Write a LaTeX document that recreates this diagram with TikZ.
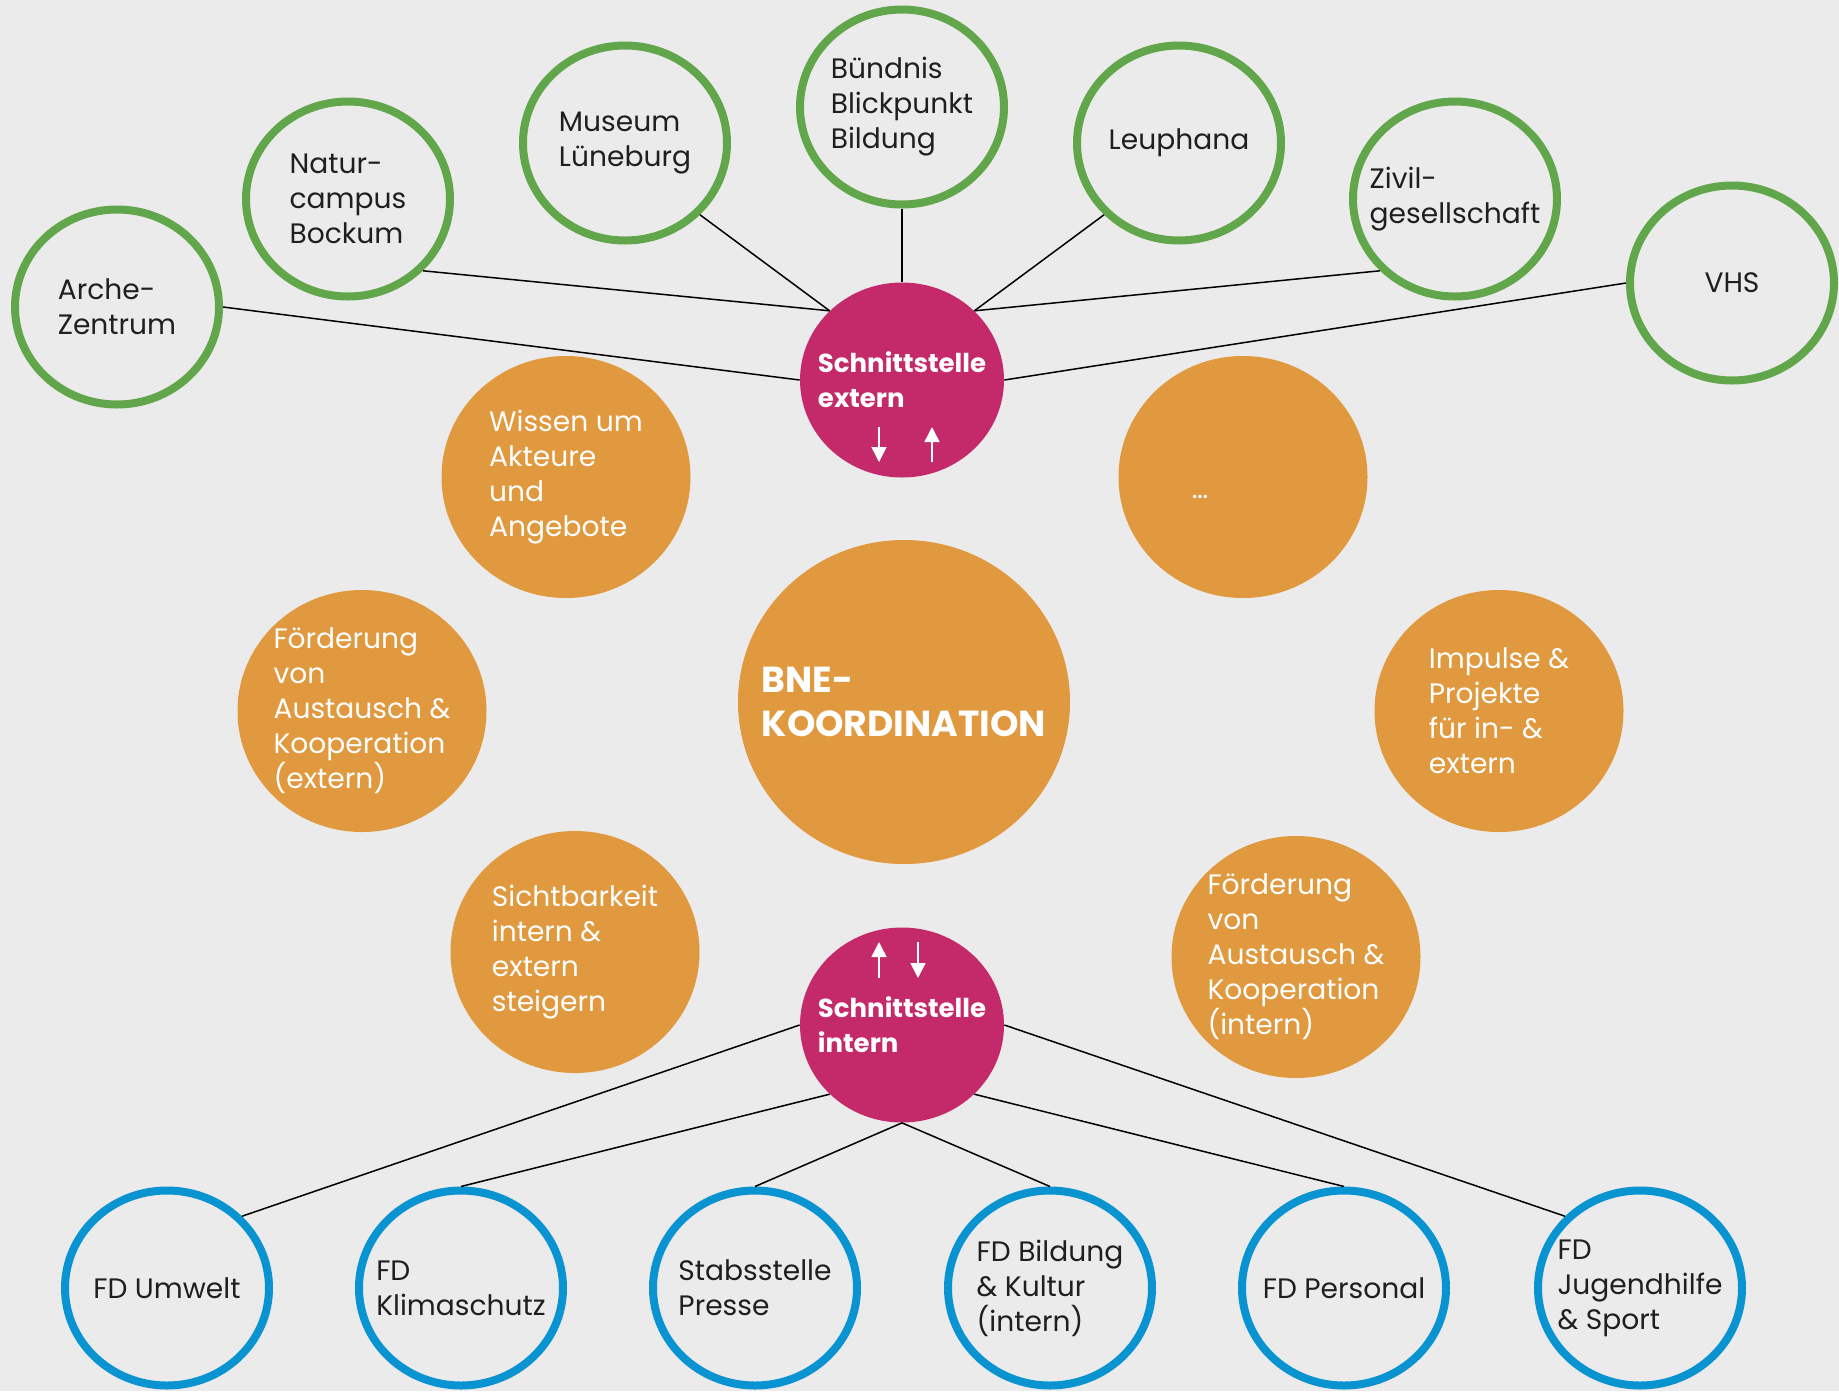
\documentclass[tikz,border=0pt]{standalone}
\usepackage{fontspec}
\setmainfont{Poppins}
\usetikzlibrary{shapes.geometric}
\usetikzlibrary{arrows.meta}

\definecolor{bgray}{HTML}{EBEBEB}
\definecolor{pgreen}{HTML}{62A64B}
\definecolor{fdblue}{HTML}{0A93D1}
\definecolor{torange}{HTML}{E0993E}
\definecolor{hubred}{HTML}{C42A69}

\begin{document}
\begin{tikzpicture}[x=0.2mm, y=-0.2mm,
	partnernode/.style={ellipse, draw=pgreen, line width=1.6mm, minimum width=40.8mm, minimum height=39mm, inner sep=-6mm, align=left, text=black!88, font=\fontsize{16}{19.9}\selectfont},
	fdnode/.style={partnernode, draw=fdblue},
	topicnode/.style={ellipse, fill=torange, minimum width=49.8mm, minimum height=48.4mm, inner sep=-6mm, align=left, text=white, font=\fontsize{16}{19.9}\selectfont},
	hubnode/.style={ellipse, fill=hubred, minimum width=40.8mm, minimum height=39mm, inner sep=-6mm, align=left, text=white, font=\bfseries\fontsize{14.8}{19.9}\selectfont},
	corenode/.style={topicnode, minimum width=66.4mm, minimum height=64.8mm, font=\bfseries\fontsize{20.6}{24.7}\selectfont},
	link/.style={line width=0.3mm, black},
	flow/.style={white, line width=0.3mm, -{Triangle[width=3mm,length=3mm]}}]
	\fill[bgray] (0,0) rectangle (1839,1391);
	% core and topics
	\node[corenode] (bne) at (904,702) {BNE-\\KOORDINATION};
	\node[topicnode] (wissen) at (566,477) {Wissen um\\Akteure\\und\\Angebote};
	\node[topicnode, label={[text=white, font=\fontsize{16}{19.9}\selectfont, xshift=-8.6mm, yshift=-4mm]center:\dots}] (more) at (1243,477) {};
	\node[topicnode] (foerdext) at (362,711) {Förderung\\von\\Austausch \&\\Kooperation\\(extern)};
	\node[topicnode] (impulse) at (1499,711) {Impulse \&\\Projekte\\für in- \&\\extern};
	\node[topicnode] (sicht) at (575,952) {Sichtbarkeit\\intern \&\\extern\\steigern};
	\node[topicnode] (foerdint) at (1296,957) {Förderung\\von\\Austausch \&\\Kooperation\\(intern)};
	% interfaces
	\node[hubnode] (extern) at (902,380) {Schnittstelle\\extern};
	\node[hubnode] (intern) at (902,1025) {Schnittstelle\\intern};
	% external partners
	\node[partnernode] (arche) at (117,307) {Arche-\\Zentrum};
	\node[partnernode] (natur) at (348,199) {Natur-\\campus\\Bockum};
	\node[partnernode] (museum) at (625,143) {Museum\\Lüneburg};
	\node[partnernode] (buendnis) at (902,107) {Bündnis\\Blickpunkt\\Bildung};
	\node[partnernode] (leuphana) at (1179,143) {Leuphana};
	\node[partnernode] (zivil) at (1455,199) {Zivil-\\gesellschaft};
	\node[partnernode] (vhs) at (1732,283) {VHS};
	% internal departments
	\node[fdnode] (umwelt) at (167,1288) {FD Umwelt};
	\node[fdnode] (klima) at (461,1288) {FD\\Klimaschutz};
	\node[fdnode] (presse) at (755,1288) {Stabsstelle\\Presse};
	\node[fdnode] (bildung) at (1050,1288) {FD Bildung\\\& Kultur\\(intern)};
	\node[fdnode] (personal) at (1344,1288) {FD Personal};
	\node[fdnode] (jugend) at (1640,1288) {FD\\Jugendhilfe\\\& Sport};
	% links outside
	\draw[link] (arche.east) -- (extern.west);
	\draw[link] (natur.south east) -- (extern.north west);
	\draw[link] (museum.south east) -- (extern.north west);
	\draw[link] (buendnis.south) -- (extern.north);
	\draw[link] (leuphana.south west) -- (extern.north east);
	\draw[link] (zivil.south west) -- (extern.north east);
	\draw[link] (vhs.west) -- (extern.east);
	% links inside
	\draw[link] (umwelt.north east) -- (intern.west);
	\draw[link] (klima.north) -- (intern.south west);
	\draw[link] (presse.north) -- (intern.south);
	\draw[link] (bildung.north) -- (intern.south);
	\draw[link] (personal.north) -- (intern.south east);
	\draw[link] (jugend.north west) -- (intern.east);
	% in and out arrows
	\draw[flow] ([shift={(-23,47)}]extern.center) -- ([shift={(-23,82)}]extern.center);
	\draw[flow] ([shift={(30,82)}]extern.center) -- ([shift={(30,47)}]extern.center);
	\draw[flow] ([shift={(-23,-47)}]intern.center) -- ([shift={(-23,-83)}]intern.center);
	\draw[flow] ([shift={(16,-83)}]intern.center) -- ([shift={(16,-47)}]intern.center);
\end{tikzpicture}
\end{document}
